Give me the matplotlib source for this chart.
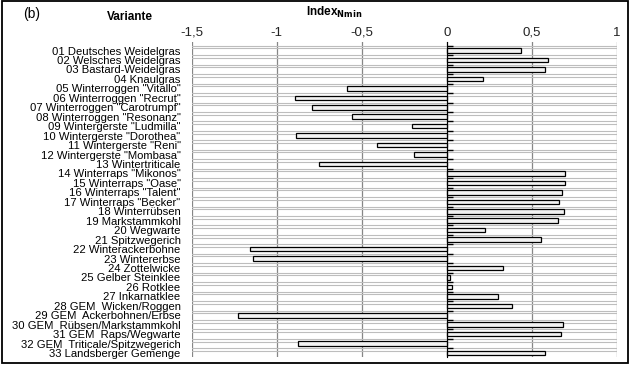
import matplotlib
matplotlib.use("Agg")
import matplotlib.pyplot as plt
import matplotlib.patches as patches
from matplotlib.ticker import FuncFormatter

# data
varianten = [
    '01 Deutsches Weidelgras', '02 Welsches Weidelgras', '03 Bastard-Weidelgras',
    '04 Knaulgras', '05 Winterroggen "Vitallo"', '06 Winterroggen "Recrut"',
    '07 Winterroggen "Carotrumpf"', '08 Winterroggen "Resonanz"',
    '09 Wintergerste "Ludmilla"', '10 Wintergerste "Dorothea"',
    '11 Wintergerste "Reni"', '12 Wintergerste "Mombasa"', '13 Wintertriticale',
    '14 Winterraps "Mikonos"', '15 Winterraps "Oase"', '16 Winterraps "Talent"',
    '17 Winterraps "Becker"', '18 Winterrübsen', '19 Markstammkohl',
    '20 Wegwarte', '21 Spitzwegerich', '22 Winterackerbohne', '23 Wintererbse',
    '24 Zottelwicke', '25 Gelber Steinklee', '26 Rotklee', '27 Inkarnatklee',
    '28 GEM  Wicken/Roggen', '29 GEM  Ackerbohnen/Erbse',
    '30 GEM  Rübsen/Markstammkohl', '31 GEM  Raps/Wegwarte',
    '32 GEM  Triticale/Spitzwegerich', '33 Landsberger Gemenge',
]
index_nmin = [
    0.437, 0.598, 0.580, 0.214, -0.588, -0.894, -0.790, -0.555,
    -0.206, -0.888, -0.408, -0.190, -0.749, 0.698, 0.698, 0.680,
    0.662, 0.692, 0.657, 0.225, 0.557, -1.157, -1.138, 0.331,
    0.018, 0.031, 0.304, 0.386, -1.226, 0.686, 0.674, -0.876, 0.580,
]
x_ticks = [-1.5, -1, -0.5, 0, 0.5, 1]

plt.rcParams['font.family'] = ['Liberation Sans', 'DejaVu Sans']

fig = plt.figure(figsize=(6.3, 3.66), dpi=100)
ax = fig.add_axes([0.3043, 0.025, 0.6747, 0.861])

pos = list(range(len(varianten)))
ax.barh(pos, index_nmin, height=0.48, color='#f2f2f2', edgecolor='black',
        linewidth=0.9, zorder=3)

ax.set_xlim(-1.5, 1.0)
ax.set_ylim(32.4, -0.93)

# grid
ax.set_xticks(x_ticks)
ax.xaxis.set_major_formatter(FuncFormatter(lambda v, p: ('%g' % v).replace('.', ',')))
ax.xaxis.tick_top()
ax.tick_params(axis='x', length=0, labelsize=9.5, pad=2, colors='#222222')
for v in x_ticks:
    ax.axvline(v, color='#868686', lw=0.9, zorder=1)
for i in range(len(varianten) + 1):
    ax.axhline(i - 0.5, color='#bdbdbd', lw=0.8, zorder=1)
    ax.axhline(i - 0.22, color='#bdbdbd', lw=0.8, zorder=1)

ax.set_yticks(pos)
ax.set_yticklabels(varianten)
ax.tick_params(axis='y', length=0, labelsize=8.1, pad=8)
for s in ax.spines.values():
    s.set_visible(False)

# zero line with category tick marks
sec = ax.secondary_yaxis(0.6)
sec.set_yticks([i - 0.5 for i in range(len(varianten))])
sec.set_yticklabels([])
sec.tick_params(axis='y', length=4, width=1, color='black', direction='out')
sec.spines['left'].set_color('black')
sec.spines['left'].set_linewidth(1.2)
sec.set_zorder(4)

fig.text(0.036, 0.962, '(b)', fontsize=10, va='center', ha='left')
fig.text(0.206, 0.953, 'Variante', fontsize=8.5, fontweight='bold', va='center', ha='center')
fig.text(0.485, 0.965, r'Index$_{\mathbf{Nmin}}$', fontsize=8.5, fontweight='bold',
         va='center', ha='left')

fig.patches.append(patches.Rectangle((0.003, 0.008), 0.994, 0.988, transform=fig.transFigure,
                                     fill=False, edgecolor='black', linewidth=1.3))

fig.savefig('out.png', dpi=100)
